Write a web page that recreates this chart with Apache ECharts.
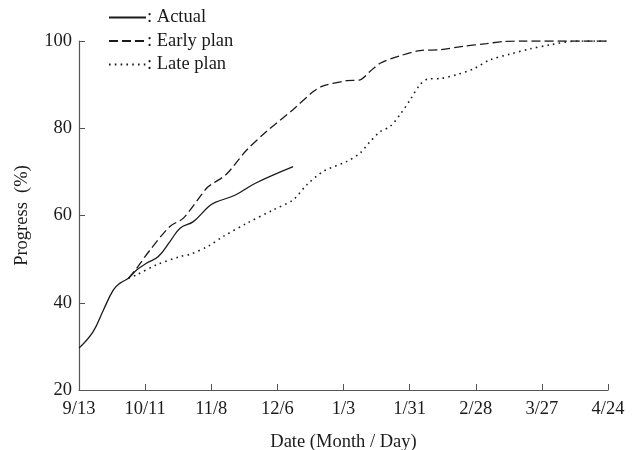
<!DOCTYPE html>
<html>
<head>
<meta charset="utf-8">
<script src="https://cdn.jsdelivr.net/npm/echarts@6/dist/echarts.min.js"></script>
<style>html,body{margin:0;padding:0;background:#fff;}#c{width:640px;height:450px;}</style>
</head>
<body>
<div id="c"></div>
<script>
// x = days since 9/13
var tickLabels = ['9/13','10/11','11/8','12/6','1/3','1/31','2/28','3/27','4/24'];
var seriesNames = ['Actual','Early plan','Late plan'];

var actualDays   = [0, 6, 10.3, 14.5, 17.4, 20.9, 24.4, 28.7, 33.6, 38.5, 42.8, 48.4, 54.8, 57.7, 66.2, 74.7, 90.7];
var actualValues = [29.6, 33.4, 38.3, 42.9, 44.5, 45.6, 47.5, 49.1, 50.6, 54.0, 57.1, 58.6, 62.0, 63.0, 64.7, 67.4, 71.2];

var earlyDays   = [20.9, 24.4, 30.1, 38.5, 44.2, 54.1, 56.9, 62.5, 71, 79.5, 90.7, 99.2, 103.4, 113.4, 119, 123.2, 127.5, 135.9, 144.4, 152.9, 162.7, 172.6, 179.7, 188.1, 224];
var earlyValues = [45.6, 47.9, 52.1, 57.5, 59.4, 66.3, 67.4, 69.5, 75.0, 79.3, 84.3, 88.4, 89.7, 90.9, 91.1, 93.0, 94.9, 96.6, 97.8, 98.0, 98.8, 99.4, 99.9, 100, 100];

var lateDays   = [20.9, 24.4, 32.9, 42.8, 47, 54.8, 61.1, 71, 82.3, 90.7, 96.4, 103.4, 113.4, 119, 123.2, 127.5, 131.7, 135.9, 140.2, 144.4, 147.9, 152.9, 160, 167, 174.1, 182.5, 191, 199.4, 210.7, 224];
var lateValues = [45.6, 46.4, 48.7, 50.6, 51.1, 53.0, 55.2, 58.2, 61.3, 63.6, 67.0, 70.1, 72.4, 74.3, 76.9, 79.2, 80.4, 83.1, 86.5, 90.0, 91.3, 91.4, 92.3, 93.6, 95.7, 97.0, 98.2, 99.1, 100, 100];

function pairs(xs, ys){ return xs.map(function(x,i){ return [x, ys[i]]; }); }

var font = 'Liberation Serif, Times New Roman, serif';
var ink = '#1a1a1a';
var axisCol = '#555';
var fs = 18.5;

var chart = echarts.init(document.getElementById('c'), null, {renderer:'canvas'});
chart.setOption({
  animation: false,
  backgroundColor: '#fff',
  textStyle: {fontFamily: font, color: ink},
  grid: {left: 79, right: 32, top: 41, bottom: 60, containLabel: false, outerBoundsMode: 'none'},
  legend: {
    orient: 'vertical', left: 103, top: 3,
    itemWidth: 37, itemHeight: 14, itemGap: 4.5,
    data: seriesNames,
    itemStyle: {opacity: 0},
    formatter: function(n){ return ': ' + n; },
    textStyle: {fontFamily: font, fontSize: fs, color: ink, padding: [0,0,0,-4]}
  },
  xAxis: {
    type: 'value', min: 0, max: 224, interval: 28,
    name: 'Date (Month / Day)', nameLocation: 'middle', nameGap: 43,
    nameTextStyle: {fontFamily: font, fontSize: fs, color: ink},
    axisLine: {show: true, lineStyle: {color: axisCol, width: 1.2}},
    axisTick: {show: true, inside: true, length: 6, lineStyle: {color: axisCol}},
    axisLabel: {fontFamily: font, fontSize: fs, color: ink, margin: 10,
      formatter: function(v){ var i = Math.round(v/28); return tickLabels[i] || ''; }},
    splitLine: {show: false}
  },
  yAxis: {
    type: 'value', min: 20, max: 100, interval: 20,
    name: 'Progress  (%)', nameLocation: 'middle', nameGap: 47, nameRotate: 90,
    nameTextStyle: {fontFamily: font, fontSize: fs, color: ink},
    axisLine: {show: true, lineStyle: {color: axisCol, width: 1.2}},
    axisTick: {show: true, inside: true, length: 6, lineStyle: {color: axisCol}},
    axisLabel: {fontFamily: font, fontSize: fs, color: ink, margin: 7},
    splitLine: {show: false}
  },
  series: [
    {name: seriesNames[0], type: 'line', data: pairs(actualDays, actualValues), smooth: 0.4, symbol: 'none',
     lineStyle: {color: ink, width: 1.3, type: 'solid'}, itemStyle: {color: ink}},
    {name: seriesNames[1], type: 'line', data: pairs(earlyDays, earlyValues), smooth: 0.3, symbol: 'none',
     lineStyle: {color: ink, width: 1.3, type: [9, 4]}, itemStyle: {color: ink}},
    {name: seriesNames[2], type: 'line', data: pairs(lateDays, lateValues), smooth: 0.3, symbol: 'none',
     lineStyle: {color: ink, width: 1.6, type: [1.6, 4.2]}, itemStyle: {color: ink}}
  ]
});
</script>
</body>
</html>
